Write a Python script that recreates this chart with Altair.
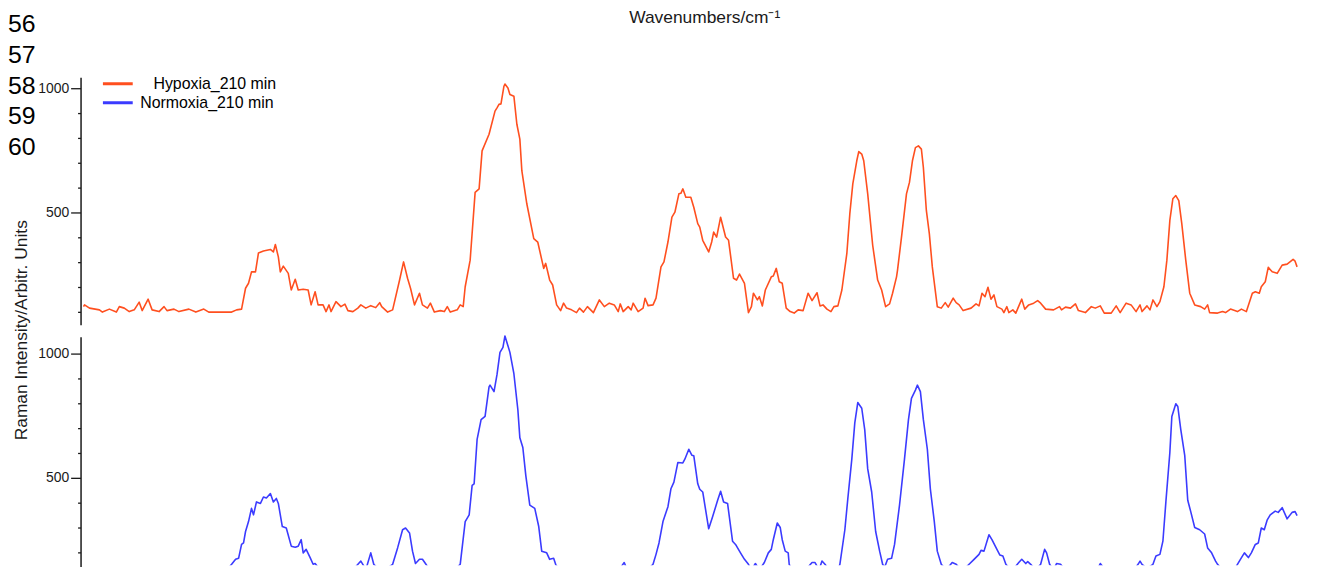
import altair as alt
import pandas as pd

# ---------------- data ----------------
series_names = ["\u200b\u00a0\u00a0\u00a0Hypoxia_210 min", "Normoxia_210 min"]
series_colors = ["#FF4F1F", "#3B3BFF"]
line_numbers = ["56", "57", "58", "59", "60"]
x_title = "Wavenumbers/cm\u207b\u00b9"
y_title = "Raman Intensity/Arbitr. Units"
y_tick_values = [100, 200, 300, 400, 500, 600, 700, 800, 900, 1000]

# Hypoxia_210 min (upper trace)
hyp_wn = [400, 401, 406, 416, 419, 426, 433, 436, 441, 446, 451, 456, 459, 465, 469, 476, 481, 484, 491, 496,
          506, 513, 521, 526, 536, 549, 554, 559, 563, 566, 569, 573, 576, 581, 588, 591, 593, 596, 598, 601,
          606, 609, 613, 616, 621, 626, 629, 633, 636, 641, 644, 647, 649, 654, 659, 663, 666, 671, 676, 679,
          684, 689, 694, 698, 700, 706, 711, 718, 722, 726, 729, 733, 738, 741, 746, 749, 753, 759, 763, 766,
          769, 776, 779, 782, 784, 789, 794, 798, 801, 808, 814,
          816, 818, 820, 823, 824, 827, 829, 833, 836, 839, 841, 846, 853, 857, 863, 865, 869, 872, 876, 880,
          883, 886, 891, 896, 899, 903, 907, 913, 919, 924, 929, 934, 938, 940, 943, 948, 951, 953, 958, 963,
          965, 968, 973, 976, 981, 984, 988, 992, 995, 999, 1001, 1003, 1006, 1011, 1014, 1018, 1020, 1023, 1029, 1032,
          1034, 1037, 1041, 1046, 1049, 1054, 1057, 1060, 1065, 1069, 1072, 1074, 1078, 1080, 1083, 1086, 1092, 1094, 1097, 1100,
          1103, 1107, 1111, 1115, 1119, 1124, 1129, 1133, 1138, 1141, 1144, 1148, 1152, 1155, 1159, 1163, 1168, 1171, 1174, 1178,
          1180, 1183, 1185, 1189, 1194, 1199, 1203, 1207, 1211, 1214, 1218,
          1219, 1223, 1228, 1231, 1234, 1237, 1240, 1243, 1245, 1248, 1251, 1254, 1259, 1263, 1267, 1270, 1275, 1278, 1281, 1285,
          1293, 1298, 1301, 1304, 1307, 1310, 1313, 1316, 1319, 1324, 1326, 1329, 1331, 1335, 1338, 1344, 1347, 1351, 1356, 1360,
          1363, 1368, 1376, 1382, 1384, 1388, 1393, 1398, 1401, 1408, 1414, 1418, 1423, 1427, 1434, 1439, 1443, 1449, 1454, 1459,
          1463, 1465, 1470, 1473, 1476, 1480, 1483, 1487, 1490, 1493, 1496, 1499, 1502, 1505, 1509, 1513, 1518, 1524, 1528, 1531,
          1533, 1541, 1546, 1549, 1554, 1561, 1565, 1570, 1576, 1579, 1583, 1585, 1589, 1592, 1596, 1601, 1606, 1611, 1617, 1619,
          1621]
hyp_int = [121, 128, 115, 108, 99, 111, 99, 121, 115, 101, 108, 139, 105, 151, 108, 101, 121, 105, 111, 101,
           111, 99, 111, 99, 99, 99, 108, 111, 195, 215, 261, 261, 337, 345, 351, 341, 371, 321, 261, 284,
           255, 188, 231, 188, 191, 188, 128, 181, 128, 128, 101, 128, 101, 141, 121, 131, 105, 101, 115, 128,
           115, 125, 117, 137, 121, 99, 108, 228, 301, 235, 195, 128, 175, 128, 115, 135, 99, 105, 101, 121,
           99, 108, 128, 121, 201, 308, 581, 595, 748, 815, 908,
           921, 935, 937, 1008, 1017, 1001, 975, 968, 855, 795, 668, 535, 395, 381, 275, 295, 228, 208, 128, 105,
           135, 115, 108, 97, 115, 99, 121, 97, 148, 121, 135, 128, 101, 132, 101, 121, 108, 135, 101, 115,
           155, 125, 128, 155, 281, 301, 381, 481, 501, 575, 577, 595, 561, 561, 521, 455, 441, 388, 341, 381,
           421, 401, 481, 401, 388, 235, 228, 252, 215, 97, 121, 175, 148, 161, 124, 188, 241, 244, 275, 221,
           215, 115, 101, 95, 108, 105, 175, 145, 177, 124, 128, 111, 101, 121, 124, 188, 335, 495, 615, 708,
           745, 735, 708, 575, 368, 228, 188, 121, 132, 175, 241,
           268, 401, 575, 621, 708, 761, 768, 755, 681, 508, 415, 281, 121, 115, 137, 119, 155, 137, 128, 105,
           115, 132, 124, 175, 161, 199, 151, 168, 121, 111, 97, 121, 97, 108, 95, 151, 111, 128, 135, 145,
           135, 111, 108, 121, 108, 119, 115, 132, 105, 97, 121, 115, 124, 95, 95, 124, 97, 135, 128, 101,
           128, 101, 124, 108, 148, 121, 141, 201, 308, 468, 555, 568, 548, 455, 308, 175, 128, 121, 111, 128,
           97, 95, 101, 97, 111, 101, 111, 101, 175, 181, 175, 201, 221, 279, 261, 255, 288, 292, 311, 304,
           281]

# Normoxia_210 min (lower trace)
nor_wn = [400, 420, 440, 460, 480, 500, 520, 540, 549, 553, 556, 559, 561, 563, 566, 569, 571, 574, 578, 581,
          584, 588, 591, 594, 596, 600, 604, 609, 613, 616, 619, 621, 624, 628, 631, 633, 640, 655, 670, 679,
          681, 684, 689, 692, 700, 711, 716, 721, 724, 728, 731, 734, 738, 741, 744, 750, 760, 770, 779, 784,
          788, 791, 793, 796, 800, 804, 808, 809, 813, 816, 819, 822, 824, 827, 829, 833, 837, 839, 842, 845,
          849, 854, 858, 861, 866, 869, 873, 875, 880, 890, 900, 910, 920, 930, 938, 944, 948, 955, 965, 973,
          976, 979, 983, 988, 991, 994, 998, 1003, 1005, 1009, 1012, 1014, 1018, 1020, 1023, 1029, 1033, 1038, 1041, 1044,
          1048, 1053, 1056, 1061, 1065, 1069, 1072, 1076, 1080, 1085, 1089, 1092, 1094, 1098, 1101, 1103, 1106, 1109, 1110, 1115,
          1122, 1133, 1136, 1140, 1143, 1146, 1152, 1158, 1161, 1166, 1169, 1173, 1176, 1179, 1183, 1186, 1189, 1193, 1197, 1201,
          1204, 1206, 1209, 1213, 1216, 1221, 1226, 1230, 1233, 1237, 1239, 1242, 1245, 1249, 1252, 1256, 1259, 1263, 1268, 1274,
          1278, 1284, 1291, 1296, 1301, 1303, 1306, 1311, 1314, 1319, 1322, 1325, 1328, 1334, 1341, 1344, 1348, 1350, 1353, 1358,
          1363, 1367, 1369, 1372, 1376, 1379, 1383, 1390, 1400, 1410, 1418, 1423, 1430, 1440, 1450, 1456, 1461, 1463, 1465, 1470,
          1476, 1479, 1483, 1486, 1489, 1493, 1495, 1499, 1501, 1504, 1508, 1511, 1514, 1518, 1523, 1528, 1531, 1535, 1539, 1541,
          1546, 1552, 1558, 1561, 1564, 1568, 1572, 1575, 1579, 1582, 1585, 1588, 1591, 1594, 1599, 1602, 1606, 1611, 1616, 1619,
          1621]
nor_int = [112, 105, 120, 108, 115, 105, 118, 110, 152, 172, 176, 232, 238, 284, 324, 377, 351, 403, 397, 423,
           419, 437, 403, 417, 397, 304, 298, 225, 221, 225, 251, 198, 212, 179, 152, 155, 120, 110, 125, 165,
           152, 130, 198, 152, 120, 152, 218, 291, 298, 278, 205, 155, 172, 172, 155, 120, 110, 115, 152, 324,
           351, 470, 476, 655, 734, 747, 866, 873, 847, 915, 1005, 1025, 1071, 1032, 1005, 919, 774, 661, 622, 509,
           390, 377, 304, 205, 198, 172, 176, 152, 120, 110, 125, 115, 120, 110, 125, 159, 120, 110, 120, 152,
           192, 238, 324, 384, 456, 483, 562, 560, 575, 615, 591, 589, 476, 454, 443, 295, 344, 410, 446, 403,
           397, 245, 232, 198, 172, 152, 130, 155, 130, 159, 198, 212, 251, 318, 300, 251, 205, 198, 152, 115,
           110, 159, 159, 130, 165, 152, 120, 115, 152, 291, 417, 575, 721, 803, 780, 694, 536, 443, 284, 205,
           152, 140, 172, 176, 232, 390, 575, 734, 820, 853, 873, 847, 734, 615, 456, 324, 205, 152, 130, 159,
           152, 125, 152, 172, 192, 208, 205, 271, 251, 212, 189, 185, 152, 125, 159, 172, 155, 163, 152, 130,
           152, 212, 198, 152, 130, 155, 152, 120, 110, 125, 115, 155, 120, 110, 120, 125, 152, 165, 152, 135,
           152, 185, 192, 245, 403, 602, 747, 798, 787, 694, 589, 410, 364, 300, 291, 274, 218, 198, 165, 152,
           130, 120, 130, 152, 172, 198, 179, 198, 232, 238, 298, 291, 331, 351, 366, 361, 380, 335, 361, 364,
           348]

assert len(hyp_wn) == len(hyp_int), (len(hyp_wn), len(hyp_int))
assert len(nor_wn) == len(nor_int), (len(nor_wn), len(nor_int))

hyp_df = pd.DataFrame({"wn": hyp_wn, "intensity": hyp_int, "series": series_names[0]})
nor_df = pd.DataFrame({"wn": nor_wn, "intensity": nor_int, "series": series_names[1]})

# ---------------- chart ----------------
FONT = "Liberation Sans, Arial, Helvetica, sans-serif"
INK = "#1a1a1a"

x_enc = alt.X("wn:Q", scale=alt.Scale(domain=[397, 1633], nice=False, zero=False), axis=None)

legend = alt.Legend(
    title=None, orient="none", legendX=21, legendY=65,
    symbolType="stroke", symbolSize=900, symbolStrokeWidth=3,
    labelFont=FONT, labelFontSize=16, labelColor="black", labelOffset=6,
    rowPadding=0, clipHeight=19, padding=0, labelLimit=400,
)
color_enc = alt.Color("series:N", scale=alt.Scale(domain=series_names, range=series_colors), legend=legend)


def y_axis(with_title):
    kw = dict(
        orient="left", values=y_tick_values, grid=False,
        labelExpr="datum.value % 500 === 0 ? '' + datum.value : ''",
        tickSize={"condition": {"test": "datum.value % 500 === 0", "value": 10}, "value": 3},
        tickColor=INK, tickWidth=1.3, domainColor=INK, domainWidth=1.5,
        labelFont=FONT, labelFontSize=14, labelColor=INK, labelPadding=2,
        labelOverlap=False, labelFlush=False,
    )
    if with_title:
        kw.update(title=y_title, titleX=-54, titleY=322, titleAngle=270, titleAlign="center",
                  titleBaseline="alphabetic", titleFont=FONT, titleFontSize=17.5,
                  titleFontWeight="normal", titleColor=INK)
    else:
        kw.update(title=None)
    return alt.Axis(**kw)


top = alt.Chart(hyp_df).mark_line(strokeWidth=1.6, strokeJoin="round").encode(
    x=x_enc,
    y=alt.Y("intensity:Q", scale=alt.Scale(domain=[48, 1044], range=[317, 68], nice=False, zero=False),
            axis=y_axis(True)),
    color=color_enc,
)

bottom = alt.Chart(nor_df).mark_line(strokeWidth=1.6, strokeJoin="round", clip=True).encode(
    x=x_enc,
    y=alt.Y("intensity:Q", scale=alt.Scale(domain=[40, 1068], range=[586, 329], nice=False, zero=False),
            axis=y_axis(False)),
    color=color_enc,
)

ln_df = pd.DataFrame({"label": ["\n".join(line_numbers)]})
line_no_layer = alt.Chart(ln_df).mark_text(
    align="left", baseline="alphabetic", fontSize=25, font=FONT, lineBreak="\n", lineHeight=31, color="black"
).encode(text="label:N", x=alt.value(-73), y=alt.value(22.5))

xt_df = pd.DataFrame({"label": [x_title]})
x_title_layer = alt.Chart(xt_df).mark_text(
    align="center", baseline="alphabetic", fontSize=17.5, font=FONT, color=INK
).encode(text="label:N", x=alt.value(628), y=alt.value(13))

chart = alt.layer(top, bottom, line_no_layer, x_title_layer).resolve_scale(
    y="independent"
).properties(
    width=1236, height=559,
    autosize=alt.AutoSizeParams(type="none"),
    padding={"left": 73, "top": 0, "right": 0, "bottom": 0},
    background="white",
).configure_view(stroke=None)

chart.save("out.html", embed_options={"renderer": "svg", "actions": False})
